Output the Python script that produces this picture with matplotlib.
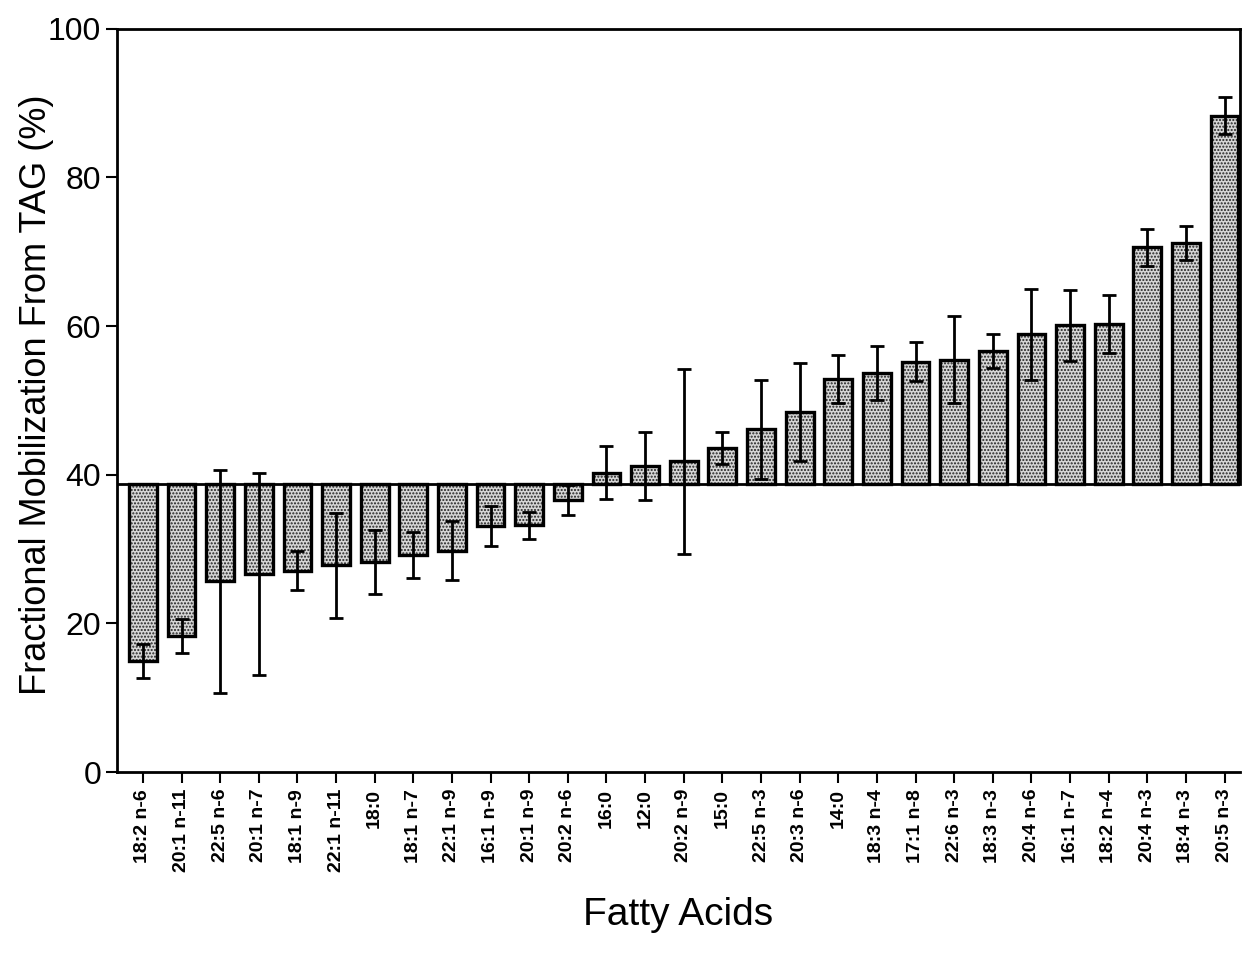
import matplotlib
matplotlib.use('Agg')
import matplotlib.pyplot as plt
import numpy as np

plt.rcParams['font.family'] = ['Liberation Sans', 'DejaVu Sans']

# Fatty acids ordered by mobilization
fatty_acids = ['18:2 n-6', '20:1 n-11', '22:5 n-6', '20:1 n-7', '18:1 n-9',
               '22:1 n-11', '18:0', '18:1 n-7', '22:1 n-9', '16:1 n-9',
               '20:1 n-9', '20:2 n-6', '16:0', '12:0', '20:2 n-9', '15:0',
               '22:5 n-3', '20:3 n-6', '14:0', '18:3 n-4', '17:1 n-8',
               '22:6 n-3', '18:3 n-3', '20:4 n-6', '16:1 n-7', '18:2 n-4',
               '20:4 n-3', '18:4 n-3', '20:5 n-3']
mobilization = [14.9, 18.3, 25.7, 26.7, 27.1, 27.8, 28.3, 29.2, 29.8, 33.1,
                33.2, 36.6, 40.3, 41.2, 41.8, 43.6, 46.1, 48.4, 52.9, 53.7,
                55.2, 55.5, 56.6, 58.9, 60.1, 60.3, 70.6, 71.2, 88.3]
sem = [2.3, 2.3, 15.0, 13.6, 2.6, 7.0, 4.3, 3.1, 4.0, 2.7,
       1.8, 2.0, 3.6, 4.6, 12.4, 2.2, 6.7, 6.6, 3.2, 3.6,
       2.6, 5.8, 2.3, 6.1, 4.8, 3.9, 2.5, 2.3, 2.5]
baseline = 38.8  # overall mean mobilization

x = np.arange(len(fatty_acids))
vals = np.array(mobilization)

fig = plt.figure(figsize=(12.45, 9.58), dpi=100)
ax = fig.add_axes([0.094, 0.194, 0.902, 0.776])

# stippled fill, then black outline
ax.bar(x, vals - baseline, bottom=baseline, width=0.72, color='#d6d6d6',
       edgecolor='#222222', hatch='.....', linewidth=0, zorder=2)
ax.bar(x, vals - baseline, bottom=baseline, width=0.72, fill=False,
       edgecolor='black', linewidth=2.4, zorder=3)
ax.errorbar(x, vals, yerr=sem, fmt='none', ecolor='black', elinewidth=2,
            capsize=5, capthick=2, zorder=4)

ax.axhline(baseline, color='black', linewidth=2, zorder=3)

ax.set_xlim(-0.67, 28.4)
ax.set_ylim(0, 100)
ax.set_yticks([0, 20, 40, 60, 80, 100])
ax.set_xticks(x)
ax.set_xticklabels(fatty_acids, rotation=90, fontsize=14, fontweight='bold')
ax.tick_params(axis='y', labelsize=23, length=8, width=1.5, direction='out')
ax.tick_params(axis='x', length=8, width=1.5, direction='out', pad=4)

for s in ['left', 'bottom', 'top', 'right']:
    ax.spines[s].set_linewidth(2)
ax.spines['right'].set_bounds(baseline, 100)

fig.text(0.029, 0.588, 'Fractional Mobilization From TAG (%)', fontsize=26,
         rotation=90, ha='center', va='center')
ax.set_xlabel('Fatty Acids', fontsize=28, labelpad=18)

plt.savefig('out.png', dpi=100)
plt.close(fig)
